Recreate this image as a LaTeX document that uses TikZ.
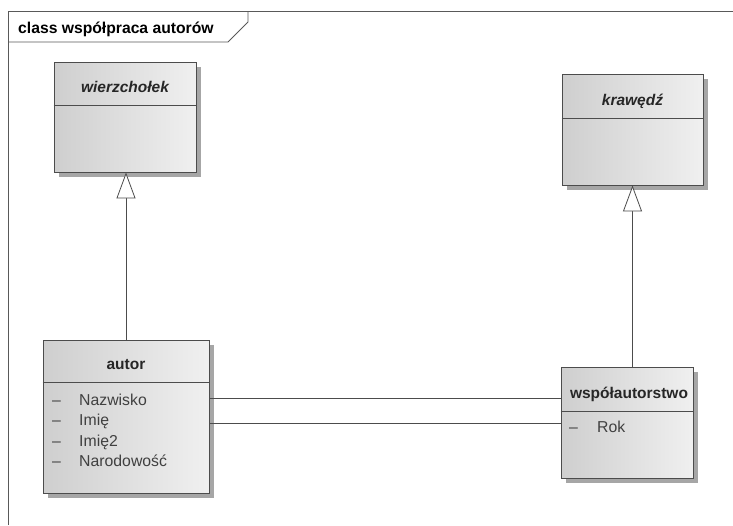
\documentclass[tikz,border=0pt]{standalone}
\usepackage{fontspec}
\setmainfont{Liberation Sans}
\usetikzlibrary{shadows,arrows.meta,positioning}

\tikzset{
  klasa/.style={draw=black!70, line width=0.9pt, left color=black!19, middle color=black!8, right color=black!6,
    inner sep=0pt, drop shadow={shadow xshift=5pt, shadow yshift=-5pt, fill=black!35, opacity=1}},
  nazwa/.style={font=\fontsize{15.5}{18}\selectfont\bfseries, text=black!85, anchor=base, inner sep=0pt},
  atrybut/.style={font=\fontsize{15.8}{18}\selectfont, text=black!75, anchor=base west, inner sep=0pt},
  uogolnienie/.style={draw=black!70, line width=0.8pt, -{Triangle[length=26pt,width=19pt,fill=white]}},
  powiazanie/.style={draw=black!70, line width=0.8pt}
}

\begin{document}
\begin{tikzpicture}[x=1pt, y=-1pt]
    \useasboundingbox (0,0) rectangle (733,525);

    % ramka diagramu
    \draw[black!65, line width=0.9pt] (8,525) -- (8,11) -- (733,11);
    \draw[black!65, line width=0.9pt] (8,42) -- (228,42) -- (248,22) -- (248,11);
    \node[font=\fontsize{15.7}{18}\selectfont\bfseries, anchor=base west, inner sep=0pt] (tytul) at (18,33) {class współpraca autorów};

    % klasy abstrakcyjne
    \node[klasa, minimum width=142pt, minimum height=110pt] (wierzcholek) at (125,117) {};
    \draw[black!70, line width=0.9pt] (wierzcholek.west |- 0,105) -- (wierzcholek.east |- 0,105);
    \node[nazwa, font=\fontsize{15.5}{18}\selectfont\bfseries\itshape] (wierzcholek-n) at (125,92) {wierzchołek};

    \node[klasa, minimum width=141pt, minimum height=111pt] (krawedz) at (632.5,129.5) {};
    \draw[black!70, line width=0.9pt] (krawedz.west |- 0,118) -- (krawedz.east |- 0,118);
    \node[nazwa, font=\fontsize{15.5}{18}\selectfont\bfseries\itshape] (krawedz-n) at (632.5,105) {krawędź};

    % klasy konkretne
    \node[klasa, minimum width=166pt, minimum height=153pt] (autor) at (126,416.5) {};
    \draw[black!70, line width=0.9pt] (autor.west |- 0,382) -- (autor.east |- 0,382);
    \node[nazwa] (autor-n) at (126,369) {autor};
    \foreach \a [count=\i] in {Nazwisko, Imię, Imię2, Narodowość} {
        \node[atrybut] (autor-d\i) at (52,384.5+20.5*\i) {--};
        \node[atrybut] (autor-a\i) at (79,384.5+20.5*\i) {\a};
    }

    \node[klasa, minimum width=132pt, minimum height=111pt] (wspol) at (627,422.5) {};
    \draw[black!70, line width=0.9pt] (wspol.west |- 0,411) -- (wspol.east |- 0,411);
    \node[nazwa] (wspol-n) at (629,398) {współautorstwo};
    \node[atrybut] (wspol-d1) at (569,432) {--};
    \node[atrybut] (wspol-a1) at (597,432) {Rok};

    % uogolnienia
    \draw[uogolnienie] (autor.north) -- (autor.north |- wierzcholek.south);
    \draw[uogolnienie] (wspol.north -| krawedz.south) -- (krawedz.south);

    % powiazania
    \draw[powiazanie] (autor.east |- 0,398) -- (wspol.west |- 0,398);
    \draw[powiazanie] (autor.east |- 0,423) -- (wspol.west |- 0,423);
\end{tikzpicture}
\end{document}
